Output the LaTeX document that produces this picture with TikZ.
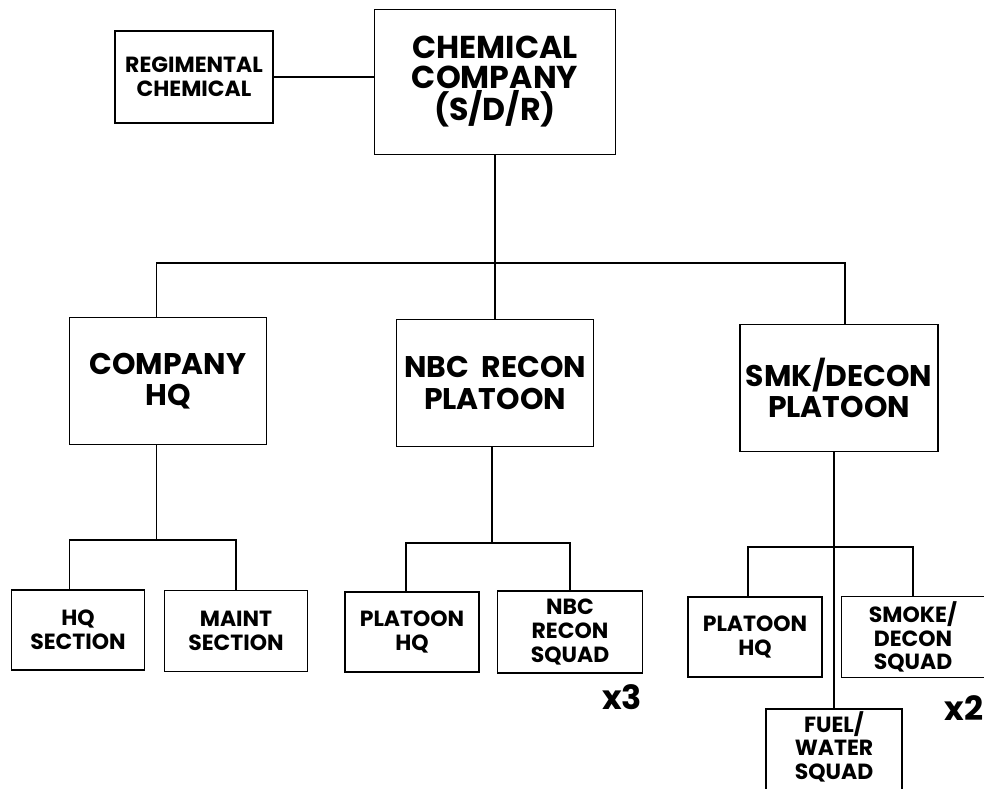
\documentclass[tikz,border=0pt]{standalone}
\usepackage{fontspec}
\setmainfont{Poppins}
\usetikzlibrary{positioning}

\begin{document}
\begin{tikzpicture}[x=0.02cm, y=-0.02cm,
  box/.style={draw, line width=1pt, align=center, inner sep=1pt, font=\bfseries},
  topbox/.style={box, font=\fontsize{18}{17}\selectfont\bfseries},
  bigbox/.style={box, font=\fontsize{17}{18}\selectfont\bfseries},
  smallbox/.style={box, font=\fontsize{12.5}{13.5}\selectfont\bfseries},
  link/.style={line width=1pt},
  mult/.style={font=\fontsize{19}{19}\selectfont\bfseries}]
  \useasboundingbox (0,0) rectangle (984,788);

  % top level
  \node[topbox, minimum width=4.82cm, minimum height=2.9cm] (chem) at (495,82) {CHEMICAL\\COMPANY\\(S/D/R)};
  \node[smallbox, minimum width=3.16cm, minimum height=1.84cm] (reg) at (194,77) {REGIMENTAL\\CHEMICAL};

  % platoons
  \node[bigbox, minimum width=3.94cm, minimum height=2.54cm] (chq) at (168,381) {COMPANY\\HQ};
  \node[bigbox, minimum width=3.94cm, minimum height=2.54cm] (nbc) at (495,383) {NBC\ \ RECON\\PLATOON};
  \node[bigbox, minimum width=3.96cm, minimum height=2.54cm] (smk) at (839,388) {SMK/DECON\\PLATOON};

  % sections and squads
  \node[smallbox, minimum width=2.66cm, minimum height=1.6cm] (hqs) at (78,630) {HQ\\SECTION};
  \node[smallbox, minimum width=2.86cm, minimum height=1.62cm] (mnt) at (236,631) {MAINT\\SECTION};
  \node[smallbox, minimum width=2.68cm, minimum height=1.6cm] (nph) at (412,632) {PLATOON\\HQ};
  \node[smallbox, minimum width=2.9cm, minimum height=1.64cm] (nsq) at (570,632) {NBC\\RECON\\SQUAD};
  \node[smallbox, minimum width=2.68cm, minimum height=1.6cm] (sph) at (755,637) {PLATOON\\HQ};
  \node[smallbox, minimum width=2.86cm, minimum height=1.62cm] (ssq) at (913,637) {SMOKE/\\DECON\\SQUAD};
  % bottom edge runs off the page, as in the original
  \node[smallbox, minimum width=2.72cm, inner ysep=0.05cm, text depth=0.5cm, anchor=north] (fws) at (834,708) {FUEL/\\WATER\\SQUAD};

  \node[mult] (x3) at (622,697) {x3};
  \node[mult] (x2) at (964,708) {x2};

  % connectors
  \draw[link] (reg.east) -- (reg.east -| chem.west);
  \draw[link] (chem.south) -- (nbc.north);
  \draw[link] ([xshift=-0.23cm]chq.north) |- ([xshift=0.12cm]smk.north |- 0,263) -- ([xshift=0.12cm]smk.north);

  \draw[link] ([xshift=-0.23cm]chq.south) -- ([xshift=-0.23cm]chq.south |- 0,540);
  \draw[link] ([xshift=-0.17cm]hqs.north) |- (mnt.north |- 0,540) -- (mnt.north);

  \draw[link] ([xshift=-0.06cm]nbc.south) -- ([xshift=-0.06cm]nbc.south |- 0,543);
  \draw[link] ([xshift=-0.12cm]nph.north) |- (nsq.north |- 0,543) -- (nsq.north);

  \draw[link] (smk.south -| fws.north) -- (fws.north);
  \draw[link] ([xshift=-0.14cm]sph.north) |- (ssq.north |- 0,547) -- (ssq.north);
\end{tikzpicture}
\end{document}
